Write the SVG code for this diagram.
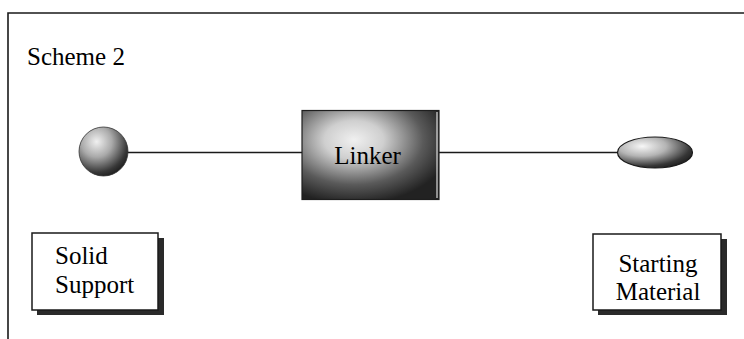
<svg xmlns="http://www.w3.org/2000/svg" width="744" height="339" viewBox="0 0 744 339">
  <style>
    .frame { fill: none; stroke: #1a1a1a; stroke-width: 1.6; }
    .conn { stroke: #1a1a1a; stroke-width: 1.5; fill: none; }
    .label { font-family: "Liberation Serif", "Times New Roman", serif; font-size: 25px; fill: #000; }
    .box { fill: #fff; stroke: #1a1a1a; stroke-width: 1.5; }
    .shadow { fill: #2a2a2a; }
  </style>
  <defs>
    <radialGradient id="sphereGrad" cx="0.36" cy="0.3" r="0.78">
      <stop offset="0" stop-color="#f0f0f0"/>
      <stop offset="0.4" stop-color="#aaaaaa"/>
      <stop offset="0.8" stop-color="#383838"/>
      <stop offset="1" stop-color="#161616"/>
    </radialGradient>
    <radialGradient id="ovalGrad" cx="0.33" cy="0.3" r="0.8">
      <stop offset="0" stop-color="#f7f7f7"/>
      <stop offset="0.4" stop-color="#b4b4b4"/>
      <stop offset="0.8" stop-color="#363636"/>
      <stop offset="1" stop-color="#181818"/>
    </radialGradient>
    <radialGradient id="linkerGrad" cx="0.38" cy="0.33" r="0.72">
      <stop offset="0" stop-color="#f0f0f0"/>
      <stop offset="0.3" stop-color="#cfcfcf"/>
      <stop offset="0.7" stop-color="#5a5a5a"/>
      <stop offset="1" stop-color="#222"/>
    </radialGradient>
  </defs>

  <!-- outer frame: top and left rules -->
  <path class="frame" d="M8,339 V13 H744"/>

  <text class="label" x="27" y="65" font-size="26">Scheme 2</text>

  <!-- connectors -->
  <g id="connectors">
    <line class="conn" x1="127" y1="152.5" x2="302" y2="152.5"/>
    <line class="conn" x1="439" y1="152.5" x2="618" y2="152.5"/>
  </g>

  <!-- solid support bead -->
  <g id="bead">
    <circle cx="103.5" cy="151.5" r="24.5" fill="url(#sphereGrad)" stroke="#333" stroke-width="0.8"/>
  </g>

  <!-- linker block -->
  <g id="linker">
    <rect x="302" y="110.5" width="137" height="89" fill="url(#linkerGrad)" stroke="#1e1e1e" stroke-width="1.2"/>
    <line x1="437" y1="112" x2="437" y2="198" stroke="#fff" stroke-width="1"/>
    <text class="label" x="367.5" y="164" text-anchor="middle">Linker</text>
  </g>

  <!-- starting material oval -->
  <g id="material">
    <ellipse cx="655" cy="152.5" rx="37.5" ry="15.5" fill="url(#ovalGrad)" stroke="#1a1a1a" stroke-width="1.2"/>
  </g>

  <!-- caption box: solid support -->
  <g id="solid-support">
    <rect class="shadow" x="37" y="238" width="127" height="77"/>
    <rect class="box" x="32" y="233" width="126" height="77"/>
    <text class="label" x="55" y="264">Solid</text>
    <text class="label" x="55" y="293">Support</text>
  </g>

  <!-- caption box: starting material -->
  <g id="starting-material">
    <rect class="shadow" x="598" y="239" width="129" height="76"/>
    <rect class="box" x="593" y="234" width="128" height="76"/>
    <text class="label" x="658" y="272" text-anchor="middle">Starting</text>
    <text class="label" x="658" y="300" text-anchor="middle">Material</text>
  </g>
</svg>
